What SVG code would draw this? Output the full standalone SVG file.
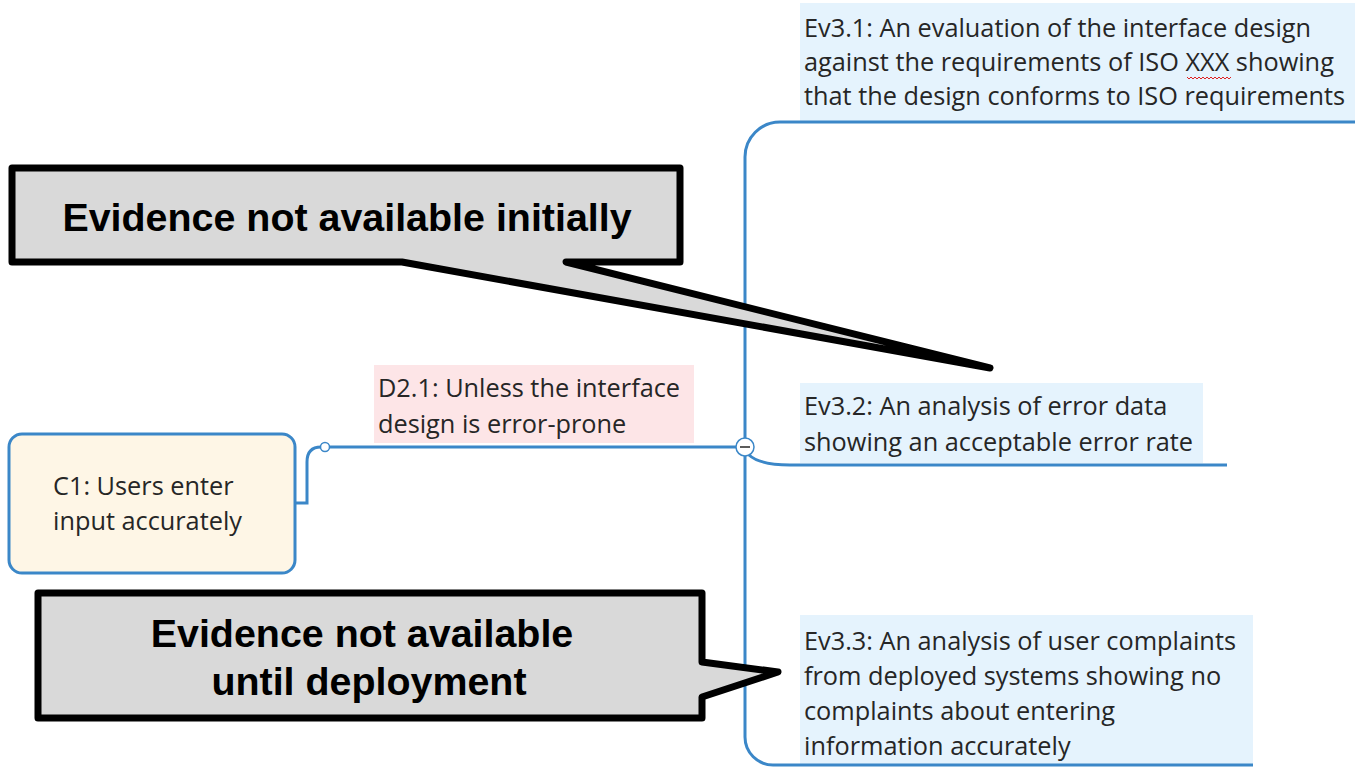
<svg xmlns="http://www.w3.org/2000/svg" width="1355" height="770" viewBox="0 0 1355 770">
  <style>
    .node-text { font-family: "Open Sans", "Noto Sans", sans-serif; font-size: 25.3px; fill: #262626; }
    .link { fill: none; stroke: #3b87c8; stroke-width: 3; }
    .callout { fill: #d9d9d9; stroke: #000; stroke-width: 7; stroke-linejoin: round; }
    .callout-text { font-family: "Liberation Sans", Arial, sans-serif; font-weight: bold; font-size: 39.4px; fill: #000; }
  </style>
  <rect width="1355" height="770" fill="#fff"/>

  <!-- evidence / condition label backgrounds -->
  <g id="ev31">
    <rect x="800" y="3" width="555" height="119" fill="#e5f3fd"/>
    <text class="node-text" x="804" y="37">Ev3.1: An evaluation of the interface design</text>
    <text class="node-text" x="804" y="71">against the requirements of ISO XXX showing</text>
    <text class="node-text" x="804" y="105">that the design conforms to ISO requirements</text>
    <!-- spell-check squiggle under XXX -->
    <path d="M1187 77 l2 2 l2 -2 l2 2 l2 -2 l2 2 l2 -2 l2 2 l2 -2 l2 2 l2 -2 l2 2 l2 -2 l2 2 l2 -2 l2 2 l2 -2 l2 2 l2 -2 l2 2 l2 -2 l2 2 l2 -2" fill="none" stroke="#e02020" stroke-width="1"/>
  </g>

  <g id="ev32">
    <rect x="800" y="383" width="403" height="80" fill="#e5f3fd"/>
    <text class="node-text" x="804" y="415">Ev3.2: An analysis of error data</text>
    <text class="node-text" x="804" y="451">showing an acceptable error rate</text>
  </g>

  <g id="ev33">
    <rect x="800" y="615" width="453" height="150" fill="#e5f3fd"/>
    <text class="node-text" x="804" y="650">Ev3.3: An analysis of user complaints</text>
    <text class="node-text" x="804" y="685">from deployed systems showing no</text>
    <text class="node-text" x="804" y="720">complaints about entering</text>
    <text class="node-text" x="804" y="755">information accurately</text>
  </g>

  <g id="d21">
    <rect x="374" y="365" width="320" height="78" fill="#fde5e7"/>
    <text class="node-text" x="378" y="397">D2.1: Unless the interface</text>
    <text class="node-text" x="378" y="433">design is error-prone</text>
  </g>

  <!-- connectors -->
  <g id="connectors">
    <path class="link" d="M295 503 H307 V462 Q307 447 321 447"/>
    <path class="link" d="M329 447 H736"/>
    <path class="link" d="M1355 122 H780 A35 35 0 0 0 745 157 V737 A28 28 0 0 0 773 765 H1253"/>
    <path class="link" d="M749 455 Q760 465 790 465 H1227"/>
    <circle cx="325" cy="447" r="4.5" fill="#fff" stroke="#3b87c8" stroke-width="1.5"/>
    <circle cx="745" cy="447" r="9" fill="#fff" stroke="#3b87c8" stroke-width="1.5"/>
    <line x1="740" y1="447" x2="750" y2="447" stroke="#262626" stroke-width="1.5"/>
  </g>

  <g id="c1">
    <rect x="9" y="434" width="286" height="139" rx="13" fill="#fef6e6" stroke="#3b87c8" stroke-width="3"/>
    <text class="node-text" x="53" y="495">C1: Users enter</text>
    <text class="node-text" x="53" y="530">input accurately</text>
  </g>

  <!-- annotation callouts -->
  <g id="callout-initially">
    <path class="callout" d="M12 168 H680 V262 H566 L990 368 L402 262 H12 Z"/>
    <text class="callout-text" x="347" y="231" text-anchor="middle">Evidence not available initially</text>
  </g>

  <g id="callout-deployment">
    <path class="callout" d="M38 593 H702 V662 L778 672 L702 697 V718 H38 Z"/>
    <text class="callout-text" x="362" y="647" text-anchor="middle">Evidence not available</text>
    <text class="callout-text" x="369" y="695" text-anchor="middle">until deployment</text>
  </g>
</svg>
